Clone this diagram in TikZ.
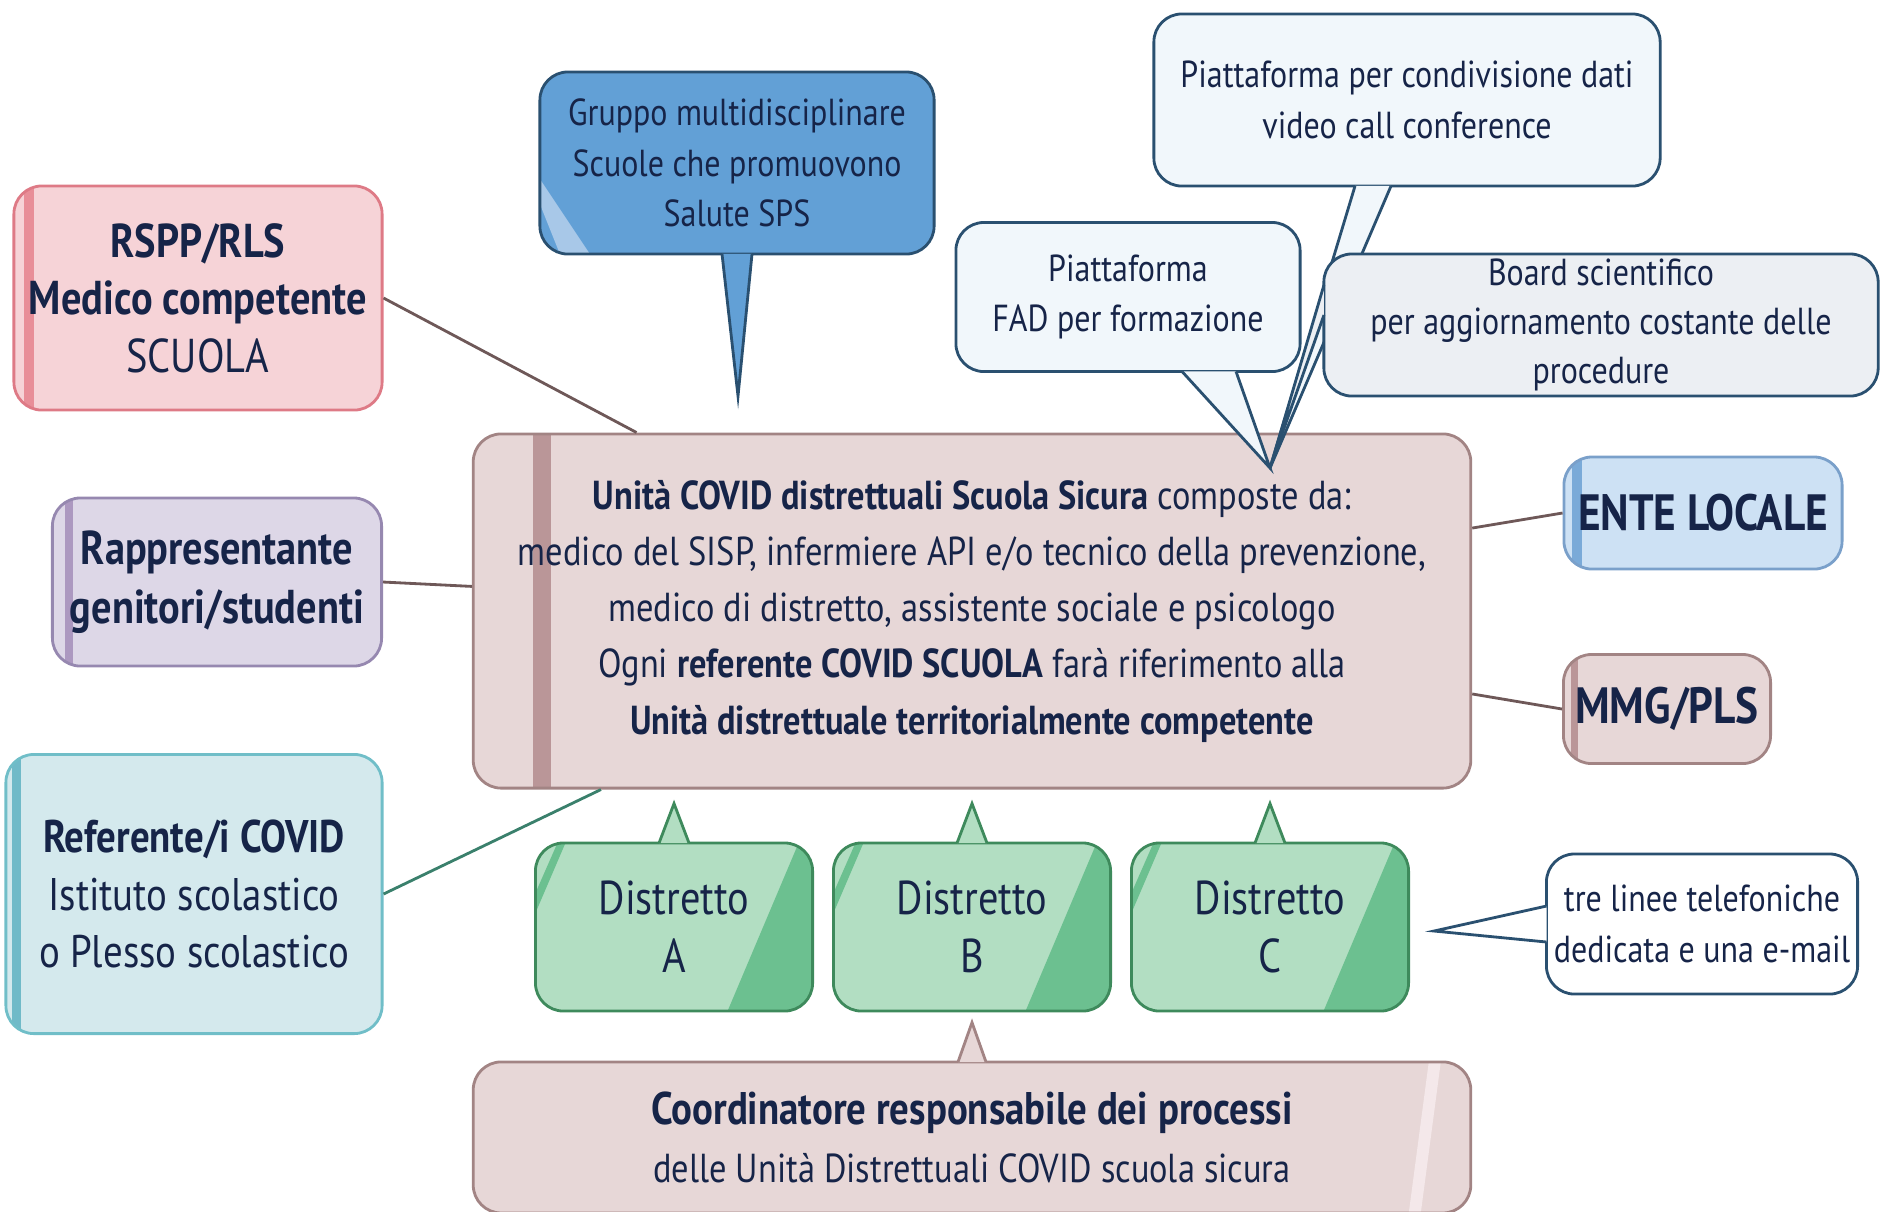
\documentclass[tikz,border=0pt]{standalone}
\usepackage{fontspec}
\setmainfont{PT Sans}[FakeStretch=0.85]
\usetikzlibrary{positioning,calc}
\definecolor{textnavy}{RGB}{22,36,72}
\definecolor{rsppfill}{RGB}{246,211,215}
\definecolor{rsppline}{RGB}{222,122,134}
\definecolor{rsppstripe}{RGB}{232,142,152}
\definecolor{genfill}{RGB}{221,215,231}
\definecolor{genline}{RGB}{150,136,176}
\definecolor{genstripe}{RGB}{172,152,192}
\definecolor{reffill}{RGB}{212,233,237}
\definecolor{refline}{RGB}{112,190,200}
\definecolor{refstripe}{RGB}{112,186,200}
\definecolor{unitfill}{RGB}{231,215,215}
\definecolor{unitline}{RGB}{162,132,132}
\definecolor{unitstripe}{RGB}{186,150,152}
\definecolor{spsfill}{RGB}{98,160,214}
\definecolor{spsgloss}{RGB}{168,200,232}
\definecolor{bubblefill}{RGB}{241,247,251}
\definecolor{boardfill}{RGB}{236,239,243}
\definecolor{bubbleline}{RGB}{42,80,112}
\definecolor{entefill}{RGB}{205,225,244}
\definecolor{enteline}{RGB}{122,160,202}
\definecolor{entestripe}{RGB}{122,170,216}
\definecolor{distfill}{RGB}{178,222,194}
\definecolor{distline}{RGB}{62,138,92}
\definecolor{distdark}{RGB}{108,192,144}
\definecolor{coordgloss}{RGB}{244,232,234}
\definecolor{linkgrey}{RGB}{110,88,88}
\definecolor{linkgreen}{RGB}{58,128,108}
\tikzset{
	every node/.style={text=textnavy,align=center,font=\fontsize{10.7}{14.3}\selectfont}
}
\tikzset{
	box/.style={rectangle,rounded corners=0.28cm,draw,line width=0.8pt,inner sep=0pt},
	stripe/.style n args={3}{path picture={\fill[#1,sharp corners] ([xshift=#2]path picture bounding box.north west) rectangle ([xshift=#3]path picture bounding box.south west);}},
	school node/.style={box,fill=rsppfill,draw=rsppline,stripe={rsppstripe}{0.1cm}{0.2cm},font=\fontsize{13.5}{16.4}\selectfont},
	parent node/.style={box,fill=genfill,draw=genline,stripe={genstripe}{0.13cm}{0.21cm},font=\fontsize{13.5}{16.6}\selectfont},
	ref node/.style={box,fill=reffill,draw=refline,stripe={refstripe}{0.06cm}{0.15cm},font=\fontsize{13}{16.4}\selectfont},
	unit node/.style={box,fill=unitfill,draw=unitline,stripe={unitstripe}{0.6cm}{0.78cm},font=\fontsize{11.5}{16}\selectfont},
	side node/.style={box,font=\fontsize{14.5}{17}\selectfont\bfseries},
	bubble/.style={box,fill=bubblefill,draw=bubbleline},
	pointer/.style={draw=bubbleline,line width=0.8pt,line join=miter,fill=bubblefill},
	district/.style={box,fill=distfill,draw=distline,minimum width=2.77cm,minimum height=1.68cm,font=\fontsize{13.5}{16.4}\selectfont,
		path picture={
			\fill[distdark,sharp corners] ([xshift=-0.14cm]path picture bounding box.north east) -- (path picture bounding box.north east) -- (path picture bounding box.south east) -- ([xshift=-0.85cm]path picture bounding box.south east) -- cycle;
			\fill[distdark,sharp corners] ([xshift=0.22cm]path picture bounding box.north west) -- ([xshift=0.3cm]path picture bounding box.north west) -- ([yshift=-0.7cm]path picture bounding box.north west) -- ([yshift=-0.5cm]path picture bounding box.north west) -- cycle;}},
	link/.style={line width=0.8pt,draw=linkgrey}
}

\begin{document}
\begin{tikzpicture}[x=0.01cm,y=-0.01cm]
	\useasboundingbox (0,0) rectangle (1883,1211);
	% central unit and districts
	\node[unit node,minimum width=9.97cm,minimum height=3.54cm] (uc) at (972,611) {\textbf{Unità COVID distrettuali Scuola Sicura} composte da:\\medico del SISP, infermiere API e/o tecnico della prevenzione,\\medico di distretto, assistente sociale e psicologo\\Ogni \textbf{referente COVID SCUOLA} farà riferimento alla\\\textbf{Unità distrettuale territorialmente competente}};
	\node[district] (distB) [below=0.52cm of uc] {Distretto\\B};
	\node[district] (distA) [left=0.18cm of distB] {Distretto\\A};
	\node[district] (distC) [right=0.18cm of distB] {Distretto\\C};
	\node[box,fill=unitfill,draw=unitline,minimum width=9.97cm,minimum height=1.51cm,font=\fontsize{13}{16.4}\selectfont,
		path picture={\fill[coordgloss,sharp corners] ([xshift=-0.42cm]path picture bounding box.north east) -- ([xshift=-0.3cm]path picture bounding box.north east) -- ([xshift=-0.5cm]path picture bounding box.south east) -- ([xshift=-0.62cm]path picture bounding box.south east) -- cycle;}]
		(coord) [below=0.48cm of distB] {\textbf{Coordinatore responsabile dei processi}\\{\fontsize{11.5}{14}\selectfont delle Unità Distrettuali COVID scuola sicura}};
	% pointers of the districts
	\foreach \d in {distA,distB,distC}{
		\filldraw[pointer,draw=distline,fill=distfill] ($(\d.north)+(-15,1.5)$) -- ($(\d.north)+(0,-38)$) -- ($(\d.north)+(15,1.5)$);
	}
	\filldraw[pointer,draw=unitline,fill=unitfill] ($(coord.north)+(-14,1.5)$) -- ($(coord.north)+(0,-38)$) -- ($(coord.north)+(14,1.5)$);
	% left column
	\node[school node,minimum width=3.68cm,minimum height=2.24cm] (rspp) at (198,298) {\textbf{RSPP/RLS}\\\textbf{Medico competente}\\SCUOLA};
	\node[parent node,minimum width=3.29cm,minimum height=1.68cm] (genitori) at (217,582) {\textbf{Rappresentante}\\\textbf{genitori/studenti}};
	\node[ref node,minimum width=3.76cm,minimum height=2.79cm] (referente) at (194,894) {\textbf{Referente/i COVID}\\Istituto scolastico\\o Plesso scolastico};
	% right column
	\node[side node,fill=entefill,draw=enteline,stripe={entestripe}{0.08cm}{0.18cm},minimum width=2.78cm,minimum height=1.12cm] (ente) at (1703,513) {ENTE LOCALE};
	\node[side node,fill=unitfill,draw=unitline,stripe={unitstripe}{0.08cm}{0.15cm},minimum width=2.07cm,minimum height=1.09cm] (mmg) at (1667,709) {MMG/PLS};
	\path[link] (rspp.east) -- (uc);
	\path[link] (genitori.east) -- (uc);
	\path[link,draw=linkgreen] (referente.east) -- (uc);
	\path[link] (ente.west) -- (uc);
	\path[link] (mmg.west) -- (uc);
	% callouts on top
	\coordinate (tip) at (1270,468);
	\node[box,fill=spsfill,draw=bubbleline,minimum width=3.94cm,minimum height=1.82cm,
		path picture={\fill[spsgloss,sharp corners] ([yshift=0.75cm]path picture bounding box.south west) -- ([yshift=0.5cm]path picture bounding box.south west) -- ([xshift=0.2cm]path picture bounding box.south west) -- ([xshift=0.5cm]path picture bounding box.south west) -- cycle;}]
		(sps) at (737,163) {Gruppo multidisciplinare\\Scuole che promuovono\\Salute SPS};
	\coordinate (spstip) at (738,396);
	\filldraw[pointer,fill=spsfill] ($(sps.south)+(-15,-1.5)$) -- (spstip) -- ($(sps.south)+(15,-1.5)$);
	\node[bubble,minimum width=5.06cm,minimum height=1.72cm] (share) at (1407,100) {Piattaforma per condivisione dati\\video call conference};
	\filldraw[pointer] ($(share.south)+(-52,-1.5)$) -- (tip) -- ($(share.south)+(-16,-1.5)$);
	\node[bubble,minimum width=3.44cm,minimum height=1.49cm] (fad) at (1128,297) {Piattaforma\\FAD per formazione};
	\filldraw[pointer] ($(fad.south)+(54,-1.5)$) -- (tip) -- ($(fad.south)+(108,-1.5)$);
	\node[bubble,fill=boardfill,minimum width=5.54cm,minimum height=1.42cm,font=\fontsize{10.7}{14}\selectfont] (board) at (1601,325) {Board scientifico\\per aggiornamento costante delle\\procedure};
	\filldraw[pointer,fill=boardfill] ($(board.west)+(1.5,-40)$) -- (tip) -- ($(board.west)+(1.5,-10)$);
	\node[bubble,fill=white,minimum width=3.11cm,minimum height=1.40cm] (linee) at (1702,924) {tre linee telefoniche\\dedicata e una e-mail};
	\filldraw[pointer,fill=white] ($(linee.west)+(1.5,-18)$) -- ($(linee.west)+(-111,7)$) -- ($(linee.west)+(1.5,18)$);
\end{tikzpicture}
\end{document}
